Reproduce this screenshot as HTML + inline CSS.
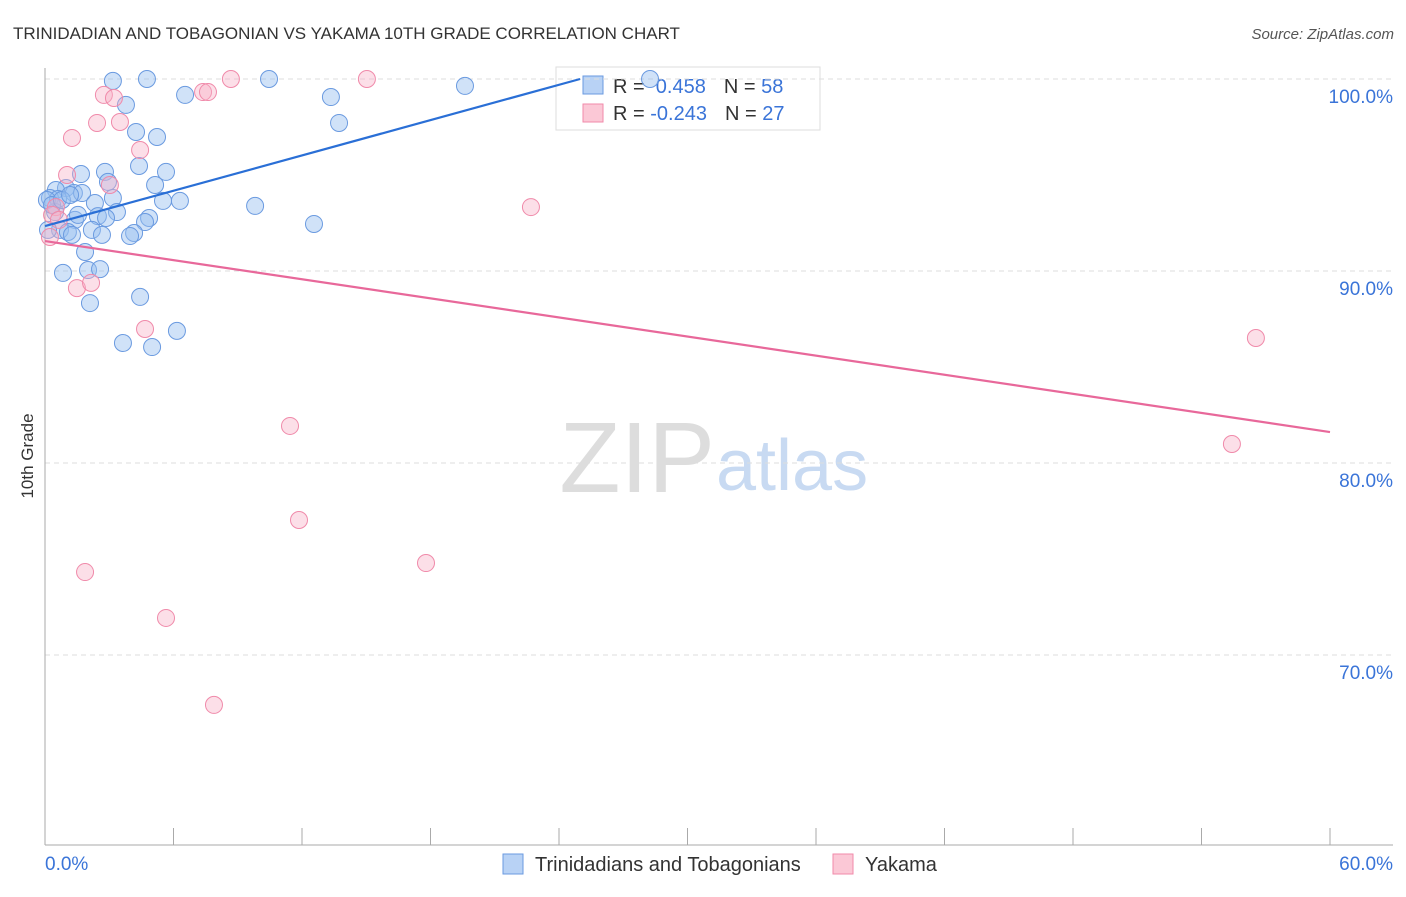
<!DOCTYPE html>
<html><head><meta charset="utf-8"><style>
body{margin:0;background:#fff;font-family:"Liberation Sans",sans-serif}
svg text{font-family:"Liberation Sans",sans-serif}
</style></head><body>
<svg id="c" width="1406" height="892">
<text x="13" y="39" font-size="17" fill="#333">TRINIDADIAN AND TOBAGONIAN VS YAKAMA 10TH GRADE CORRELATION CHART</text>
<text x="1394" y="39" font-size="15" fill="#555" font-style="italic" text-anchor="end">Source: ZipAtlas.com</text>
<text x="715" y="492" font-size="100" fill="#ddd" text-anchor="end" font-family="Liberation Serif">ZIP</text>
<text x="716" y="490" font-size="72" fill="#c8daf2">atlas</text>
<text transform="translate(33,456) rotate(-90)" font-size="17" fill="#333" text-anchor="middle">10th Grade</text>
<g>
<rect x="556" y="67" width="264" height="63" fill="#fff" stroke="#ddd"/>
<rect x="583" y="76" width="20" height="18" fill="#b8d2f5" stroke="#6a9ae0"/>
<rect x="583" y="104" width="20" height="18" fill="#fbc8d6" stroke="#f08aaa"/>
<text x="613" y="93" font-size="20" fill="#333">R = <tspan fill="#3a74d8">&#160;0.458</tspan><tspan dx="18">N = </tspan><tspan fill="#3a74d8">58</tspan></text>
<text x="613" y="120" font-size="20" fill="#333">R = <tspan fill="#3a74d8">-0.243</tspan><tspan dx="18">N = </tspan><tspan fill="#3a74d8">27</tspan></text>
</g>
<g id="grid"></g><g id="pts"></g><g id="lines"></g>
<g>
<rect x="503" y="854" width="20" height="20" fill="#b8d2f5" stroke="#6a9ae0"/>
<text x="535" y="871" font-size="20" fill="#333">Trinidadians and Tobagonians</text>
<rect x="833" y="854" width="20" height="20" fill="#fbc8d6" stroke="#f08aaa"/>
<text x="865" y="871" font-size="20" fill="#333">Yakama</text>
</g>
</svg>
<script>
const xTicksLabels=["0.0%","60.0%"];
const yTicks=[100,90,80,70];
const blueX=[3.17,4.76,10.46,19.61,28.25,6.54,13.35,3.78,13.73,4.25,5.23,4.39,2.80,5.65,1.68,2.94,5.14,0.98,0.51,1.35,1.73,3.17,0.23,0.61,2.33,6.30,5.51,9.81,3.36,0.47,1.40,2.47,2.85,4.86,4.67,12.56,0.70,1.07,2.19,1.26,2.66,4.16,3.97,1.87,0.84,2.01,2.57,4.44,2.10,6.16,3.64,5.00,0.09,0.33,0.79,1.17,1.54,0.14];
const blueY=[99.9,100,100,99.64,100,99.17,99.06,98.65,97.71,97.24,96.98,95.47,95.16,95.16,95.05,94.64,94.48,94.32,94.22,94.06,94.06,93.80,93.80,93.75,93.54,93.65,93.65,93.39,93.07,93.07,92.66,92.86,92.76,92.76,92.55,92.45,92.14,92.03,92.14,91.88,91.88,91.98,91.82,90.99,89.90,90.05,90.10,88.65,88.33,86.88,86.25,86.04,93.70,93.44,93.70,93.96,92.92,92.14];
const pinkX=[1.26,2.75,3.22,2.43,3.50,4.44,1.03,3.03,0.51,0.33,0.65,0.23,1.49,2.15,4.67,7.38,7.61,8.68,15.03,22.69,11.44,11.86,17.79,1.87,5.65,7.89,56.54,55.42];
const pinkY=[96.93,99.17,99.01,97.71,97.76,96.30,95.0,94.48,93.33,92.92,92.66,91.77,89.11,89.38,86.98,99.32,99.32,100,100,93.33,81.93,77.03,74.79,74.32,71.93,67.40,86.51,80.99];
const blueTrend=[92.34,0.3066];
const pinkTrend=[91.56,-0.1658];
const X=v=>45+v*1285/60, Y=v=>79+(100-v)*19.2;
const NS="http://www.w3.org/2000/svg";
function mk(t,a,p){const e=document.createElementNS(NS,t);for(const k in a)e.setAttribute(k,a[k]);p.appendChild(e);return e;}
const g=document.getElementById('grid');
yTicks.forEach(v=>{
 const l=mk('line',{x1:45,x2:1393,y1:Y(v),y2:Y(v),stroke:'#ddd','stroke-dasharray':'5,4'},g);
 
 
 const t=mk('text',{x:1393,y:Y(v)+24,'font-size':19,fill:'#3a74d8','text-anchor':'end'},g);
 t.textContent=v.toFixed(1)+'%';
 
 
});
const ax=mk('line',{x1:45,x2:1393,y1:845,y2:845,stroke:'#aaa'},g);


const ay=mk('line',{x1:45,x2:45,y1:68,y2:845,stroke:'#aaa'},g);


for(let i=0;i<=10;i++){const tk=mk('line',{x1:X(i*6),x2:X(i*6),y1:828,y2:845,stroke:'#aaa'},g);
 
 }
[[0,'start',45],[60,'end',1393]].forEach((d,i)=>{const t=mk('text',{x:d[2],y:870,'font-size':19,fill:'#3a74d8','text-anchor':d[1]},g);t.textContent=xTicksLabels[i];
 
 });
const p=document.getElementById('pts');
blueX.forEach((x,i)=>{const c=mk('circle',{cx:X(x),cy:Y(blueY[i]),r:8.5,fill:'rgba(150,190,240,0.45)',stroke:'#6a9ae0','stroke-width':1},p);
 
 });
pinkX.forEach((x,i)=>{const c=mk('circle',{cx:X(x),cy:Y(pinkY[i]),r:8.5,fill:'rgba(248,175,198,0.4)',stroke:'#f08aaa','stroke-width':1},p);
 
 });
const L=document.getElementById('lines');
const bx2=(100-blueTrend[0])/blueTrend[1];
const bl=mk('line',{x1:X(0),y1:Y(blueTrend[0]),x2:X(bx2),y2:Y(100),stroke:'#2a6fd6','stroke-width':2.2},L);


const pl=mk('line',{x1:X(0),y1:Y(pinkTrend[0]),x2:X(60),y2:Y(pinkTrend[0]+pinkTrend[1]*60),stroke:'#e8689a','stroke-width':2.2},L);


</script>
</body></html>
